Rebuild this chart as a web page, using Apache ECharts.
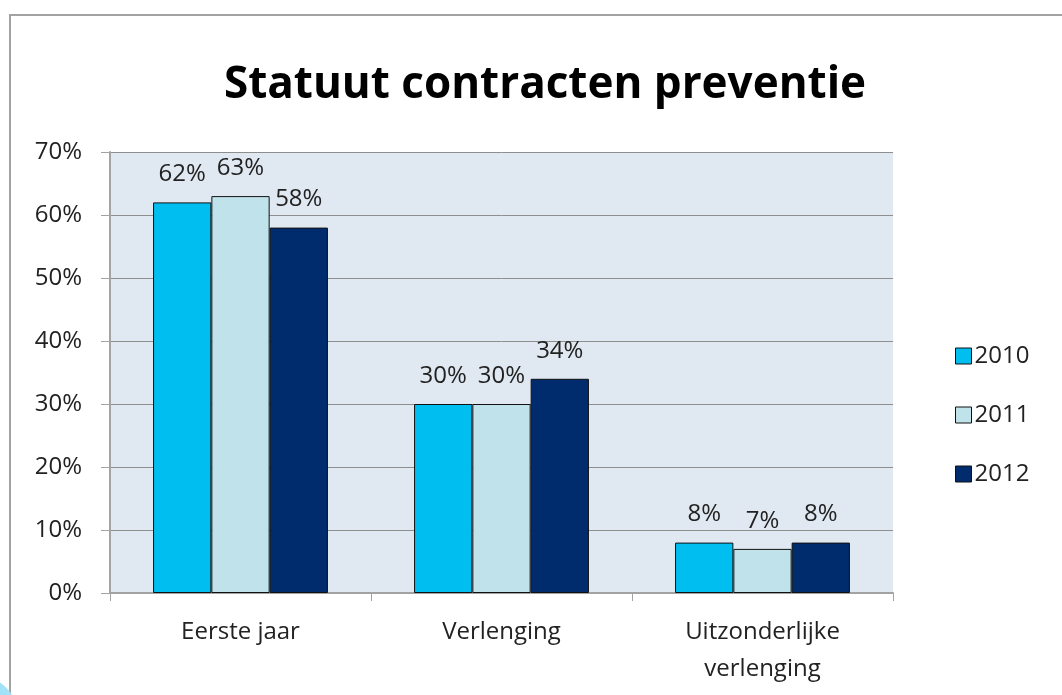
<!DOCTYPE html>
<html>
<head>
<meta charset="utf-8">
<script src="https://cdn.jsdelivr.net/npm/echarts@6/dist/echarts.min.js"></script>
<style>
  html, body { margin: 0; padding: 0; background: #fff; }
  #chart { width: 1062px; height: 695px; }
</style>
</head>
<body>
<div id="chart"></div>
<script>
// data
const categories = ["Eerste jaar", "Verlenging", "Uitzonderlijke\nverlenging"];
const years = ["2010", "2011", "2012"];
const values2010 = [62, 30, 8];
const values2011 = [63, 30, 7];
const values2012 = [58, 34, 8];
const yTicks = [0, 10, 20, 30, 40, 50, 60, 70];

const colors = ["#00bff0", "#c0e2eb", "#002c6e"];
const font = "'Open Sans', 'Noto Sans', sans-serif";

const myChart = echarts.init(document.getElementById("chart"));

function barSeries(name, data, color) {
  return {
    name: name,
    type: "bar",
    data: data,
    barGap: "0%",
    barCategoryGap: "33%",
    itemStyle: { color: color, borderColor: "#111", borderWidth: 1 },
    label: {
      show: true,
      position: "top",
      distance: 16,
      formatter: "{c}%",
      fontFamily: font,
      fontSize: 24,
      color: "#222"
    }
  };
}

myChart.setOption({
  animation: false,
  backgroundColor: "#fff",
  graphic: [
    {
      type: "rect",
      shape: { x: 10, y: 15, width: 1100, height: 720 },
      style: { fill: "none", stroke: "#a3a3a3", lineWidth: 2 },
      z: -1
    },
    {
      type: "circle",
      shape: { cx: -22, cy: 716, r: 40 },
      style: { fill: "#a2e2f8" }
    }
  ],
  title: {
    text: "Statuut contracten preventie",
    left: 540,
    top: 58,
    textAlign: "center",
    textStyle: { fontFamily: font, fontSize: 44, fontWeight: "bold", color: "#000" }
  },
  legend: {
    orient: "vertical",
    left: 950,
    top: 339,
    itemWidth: 16,
    itemHeight: 16,
    itemGap: 35,
    icon: "rect",
    data: years,
    itemStyle: { borderColor: "#111", borderWidth: 1 },
    textStyle: { fontFamily: font, fontSize: 24, color: "#222", padding: [0, 0, 0, -2] }
  },
  grid: {
    left: 110,
    right: 169,
    top: 152,
    bottom: 102,
    show: true,
    backgroundColor: "#e0e8f1",
    borderWidth: 0
  },
  xAxis: {
    type: "category",
    data: categories,
    axisLine: { lineStyle: { color: "#a3a3a3", width: 2 } },
    axisTick: { show: true, length: 8, alignWithLabel: false, lineStyle: { color: "#a3a3a3", width: 1 } },
    axisLabel: { margin: 21, fontFamily: font, fontSize: 24, color: "#222", lineHeight: 37 }
  },
  yAxis: {
    type: "value",
    min: 0,
    max: 70,
    interval: 10,
    axisLine: { show: true, lineStyle: { color: "#a3a3a3", width: 2 } },
    axisTick: { show: true, length: 9, lineStyle: { color: "#a3a3a3", width: 1 } },
    axisLabel: {
      margin: 28,
      fontFamily: font,
      fontSize: 24,
      color: "#222",
      formatter: function (v) { return yTicks.indexOf(v) >= 0 ? v + "%" : ""; }
    },
    splitLine: { lineStyle: { color: "#8e8e8e", width: 1 } }
  },
  series: [
    barSeries(years[0], values2010, colors[0]),
    barSeries(years[1], values2011, colors[1]),
    barSeries(years[2], values2012, colors[2])
  ]
});
</script>
</body>
</html>
